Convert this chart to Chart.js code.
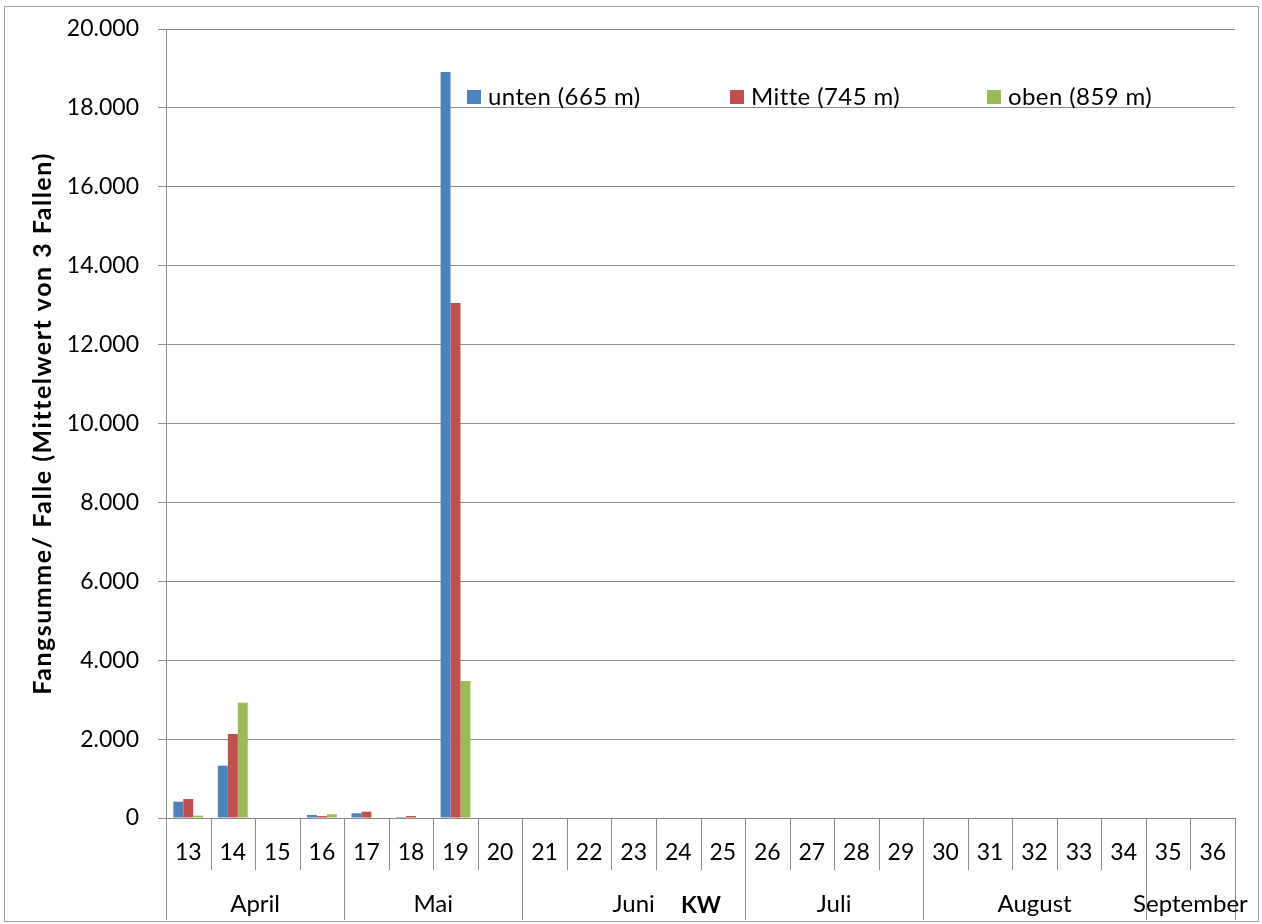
<!DOCTYPE html>
<html>
<head>
<meta charset="utf-8">
<script src="https://cdn.jsdelivr.net/npm/chart.js@4.4.0/dist/chart.umd.min.js"></script>
<style>
  html, body { margin: 0; padding: 0; background: #ffffff; }
  #wrap { width: 1262px; height: 924px; position: relative; }
</style>
</head>
<body>
<div id="wrap"><canvas id="c" width="1262" height="924"></canvas></div>
<script>
// Kalenderwochen (KW) und Monatsgruppen
const weeks = ['13','14','15','16','17','18','19','20','21','22','23','24','25','26','27','28','29','30','31','32','33','34','35','36'];
const months = ['April', 'Mai', 'Juni', 'Juli', 'August', 'September'];
const monthFirstWeek = ['13', '17', '21', '26', '30', '35'];

// Fangsumme je Falle (Mittelwert von 3 Fallen)
const unten = [413, 1326, 0, 76, 119, 25, 18910, 0, 0, 0, 0, 0, 0, 0, 0, 0, 0, 0, 0, 0, 0, 0, 0, 0];
const mitte = [480, 2130, 0, 50, 160, 50, 13055, 0, 0, 0, 0, 0, 0, 0, 0, 0, 0, 0, 0, 0, 0, 0, 0, 0];
const oben  = [60, 2923, 0, 94, 0, 0, 3473, 0, 0, 0, 0, 0, 0, 0, 0, 0, 0, 0, 0, 0, 0, 0, 0, 0];

const seriesLabels = ['unten (665 m)', 'Mitte (745 m)', 'oben (859 m)'];
const seriesColors = ['#4F81BD', '#C0504D', '#9BBB59'];
const yTicksMax = 20000;
const yTicksStep = 2000;
const yTitle = 'Fangsumme/ Falle (Mittelwert von 3 Fallen)';
const xTitle = 'KW';

const FONT = 'Lato, "Liberation Sans", sans-serif';
const LINE = '#8c8c8c';

// Rahmen, Achsentitel, Legende und zweizeilige Rubrikenachse (KW / Monat)
const decorations = {
  id: 'decorations',
  afterDraw(chart) {
    const ctx = chart.ctx;
    const area = chart.chartArea;
    const x = chart.scales.x;
    const n = weeks.length;
    const step = x.getPixelForValue(1) - x.getPixelForValue(0);
    const edge = i => x.getPixelForValue(i) - step / 2;
    const row1Bottom = area.bottom + 52;
    const row2Bottom = area.bottom + 102;

    ctx.save();
    // Außenrahmen
    ctx.strokeStyle = '#a0a0a0';
    ctx.lineWidth = 1;
    ctx.strokeRect(4.5, 6.5, 1254, 915);

    // Trennlinien der Kalenderwochen
    ctx.strokeStyle = LINE;
    ctx.lineWidth = 1;
    for (let i = 0; i <= n; i++) {
      const px = Math.round(edge(i)) + 0.5;
      const isMonthEdge = i === n || monthFirstWeek.includes(weeks[i]);
      ctx.beginPath();
      ctx.moveTo(px, area.bottom);
      ctx.lineTo(px, isMonthEdge ? row2Bottom : row1Bottom);
      ctx.stroke();
    }

    // KW-Beschriftung
    ctx.fillStyle = '#000';
    ctx.font = '23px ' + FONT;
    ctx.textAlign = 'center';
    ctx.textBaseline = 'middle';
    weeks.forEach((w, i) => ctx.fillText(w, x.getPixelForValue(i), area.bottom + 35));

    // Monatsbeschriftung, mittig unter den zugehörigen Wochen
    ctx.font = '24px ' + FONT;
    months.forEach((m, k) => {
      const a = weeks.indexOf(monthFirstWeek[k]);
      const b = k + 1 < months.length ? weeks.indexOf(monthFirstWeek[k + 1]) : n;
      ctx.fillText(m, (edge(a) + edge(b)) / 2, area.bottom + 86);
    });

    // Achsentitel "KW"
    ctx.font = 'bold 23px ' + FONT;
    ctx.fillText(xTitle, 701, area.bottom + 88);

    // y-Achsentitel, gedreht
    ctx.save();
    ctx.translate(43, (area.top + area.bottom) / 2);
    ctx.rotate(-Math.PI / 2);
    ctx.font = 'bold 25px ' + FONT;
    ctx.letterSpacing = '1.5px';
    ctx.fillText(yTitle, 0, 0);
    ctx.restore();

    // Legende innerhalb der Zeichenfläche
    const legendX = [467, 730, 987];
    const legendY = 97;
    ctx.font = '24px ' + FONT;
    ctx.letterSpacing = '0.4px';
    ctx.textAlign = 'left';
    chart.data.datasets.forEach((ds, i) => {
      ctx.fillStyle = ds.backgroundColor;
      ctx.fillRect(legendX[i], legendY - 7, 14, 14);
      ctx.fillStyle = '#000';
      ctx.fillText(ds.label, legendX[i] + 21, legendY);
    });
    ctx.restore();
  }
};

new Chart(document.getElementById('c'), {
  type: 'bar',
  data: {
    labels: weeks,
    datasets: [
      { label: seriesLabels[0], data: unten, backgroundColor: seriesColors[0] },
      { label: seriesLabels[1], data: mitte, backgroundColor: seriesColors[1] },
      { label: seriesLabels[2], data: oben, backgroundColor: seriesColors[2] }
    ]
  },
  options: {
    responsive: false,
    animation: false,
    devicePixelRatio: 1,
    layout: { padding: { left: 0, top: 29, right: 27, bottom: 0 } },
    datasets: { bar: { categoryPercentage: 0.67, barPercentage: 1.0, borderWidth: 0 } },
    plugins: { legend: { display: false }, tooltip: { enabled: false } },
    scales: {
      x: {
        offset: true,
        grid: { display: false },
        border: { display: true, color: LINE, width: 1 },
        ticks: { display: false },
        afterFit(scale) { scale.height = 106; }
      },
      y: {
        min: 0,
        max: yTicksMax,
        grid: { color: LINE, lineWidth: 1, tickLength: 8, drawTicks: true },
        border: { display: true, color: LINE, width: 1 },
        ticks: {
          stepSize: yTicksStep,
          padding: 19,
          color: '#000',
          font: { family: FONT, size: 23 },
          callback: v => v.toLocaleString('de-DE')
        },
        afterFit(scale) {
          scale.width = 166;
          scale.paddingTop = 0;
          scale.paddingBottom = 0;
        }
      }
    }
  },
  plugins: [decorations]
});
</script>
</body>
</html>
